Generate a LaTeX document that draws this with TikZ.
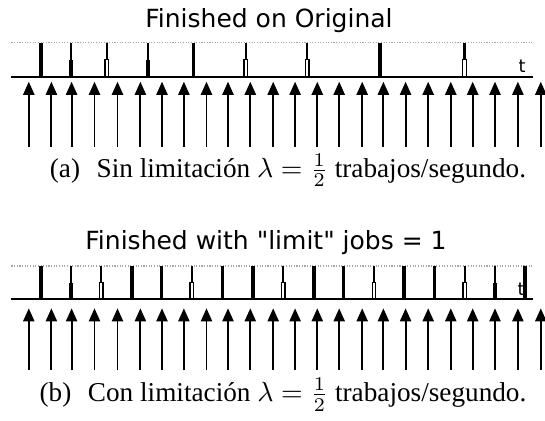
\documentclass[tikz,border=0pt]{standalone}
\usepackage{fontspec}
\usepackage{amsmath}
\setmainfont{Liberation Serif}
\newfontfamily\plotfont{DejaVu Sans}
\usetikzlibrary{arrows.meta,calc}

% finished jobs: x, top, bottom
\newcommand{\jobfull}[3]{\draw[donebar] (#1,#2) -- (#1,#3);}
\newcommand{\jobstep}[3]{%
  \draw[thinbar] (#1,#2) -- (#1,{(#2+#3)/2});
  \draw[donebar] (#1,{(#2+#3)/2}) -- (#1,#3);}
\newcommand{\jobhollow}[3]{%
  \draw[thinbar] (#1,#2) -- (#1,{(#2+#3)/2});
  \draw[line width=0.45pt] ({#1-1.8},{(#2+#3)/2}) rectangle ({#1+1.8},#3);}

\begin{document}
\begin{tikzpicture}[x=0.36pt,y=-0.36pt,
    donebar/.style={line width=1.3pt},
    thinbar/.style={line width=0.8pt},
    timeline/.style={line width=0.75pt},
    guide/.style={gray!70,line width=0.45pt,dash pattern=on 0.4pt off 0.55pt},
    arrival/.style={line width=0.7pt,-{Triangle[length=4.7pt,width=4pt]}},
    plottitle/.style={anchor=base,font=\plotfont\fontsize{9}{10}\selectfont},
    tlabel/.style={font=\plotfont\fontsize{6.4}{7}\selectfont},
    subcap/.style={anchor=base,font=\fontsize{9.8}{12}\selectfont}]
    \useasboundingbox (0,0) rectangle (545,420);

    % (a) original
    \node[plottitle] (titleA) at (269,27.5) {Finished on Original};
    \draw[guide] (11.5,42.7) -- (532.8,42.7);
    \node[tlabel] (tA) at (522,66.5) {t};
    \draw[timeline] (11.5,76.7) -- (532.8,76.7);
    \foreach \x/\k in {41/full,71.3/step,106.7/hollow,147.7/step,193.6/full,
                       245.7/hollow,307.3/hollow,380.3/full,464.4/hollow}
        {\csname job\k\endcsname{\x}{42.7}{76.7}}
    \foreach \x in {28.8,51.4,71.6,94.5,117.5,140.4,162,183.9,206.5,228,250.3,273.2,
                    295.1,317.3,339.2,362.2,383.4,405.6,428.2,450.8,472.7,495,517.9,540.8}
        \draw[arrival] (\x,146.7) -- (\x,81.7);
    \node[subcap] (capA) at (288,177)
        {(a)\hspace{0.36em} Sin limitación $\lambda=\frac{1}{2}$ trabajos/segundo.};

    % (b) with limit
    \node[plottitle] (titleB) at (266,249.5) {Finished with "limit" jobs = 1};
    \draw[guide] (11.5,266) -- (532.8,266);
    \node[tlabel] (tB) at (521,289) {t};
    \draw[timeline] (11.5,299.3) -- (532.8,299.3);
    \foreach \x/\k in {41/full,71.3/step,101.1/hollow,132.1/full,161.6/full,191.9/hollow,
                       222.5/full,252.7/full,283.3/hollow,313.9/full,343.4/full,374/hollow,
                       404.2/full,434.5/full,464.7/hollow,495.3/step,524.9/full}
        {\csname job\k\endcsname{\x}{266}{299.3}}
    \foreach \x in {28.8,51.4,71.6,94.5,117.5,140.4,162,183.9,206.5,228,250.3,273.2,
                    295.1,317.3,339.2,362.2,383.4,405.6,428.2,450.8,472.7,495,517.9,540.8}
        \draw[arrival] (\x,370) -- (\x,308.3);
    \node[subcap] (capB) at (283,401.5)
        {(b)\hspace{0.36em} Con limitación $\lambda=\frac{1}{2}$ trabajos/segundo.};
\end{tikzpicture}
\end{document}
